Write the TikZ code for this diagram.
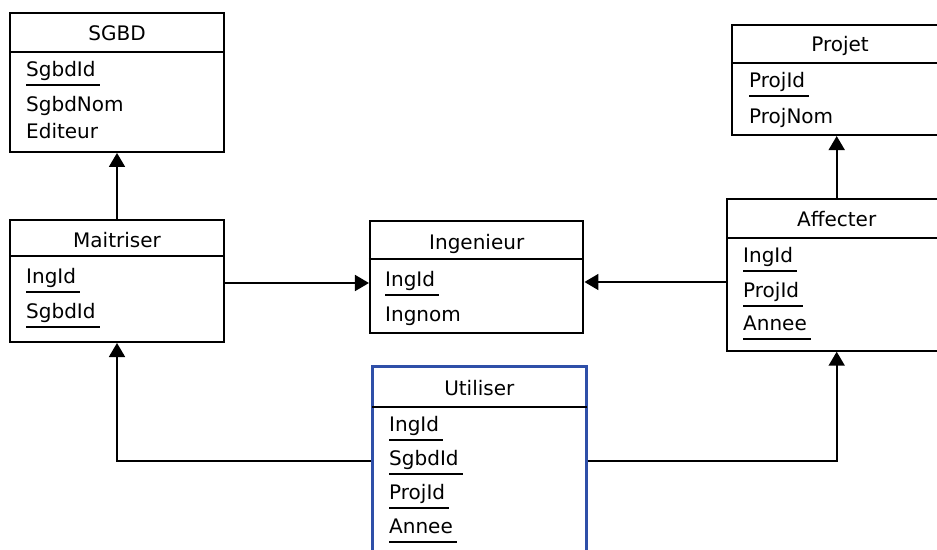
\documentclass[tikz,border=0pt]{standalone}
\usepackage{fontspec}
\setmainfont{DejaVu Sans}
\usetikzlibrary{arrows.meta,calc}
\definecolor{bleu}{RGB}{47,79,168}
\tikzset{
>={Triangle[width=16pt,length=14pt]},
tabella/.style={draw,line width=2pt,inner sep=0pt},
riga/.style={line width=2pt},
titolo/.style={anchor=base,inner sep=0pt},
attributo/.style={anchor=base west,inner xsep=2pt,inner ysep=0pt,text depth=8.5pt},
chiave/.style={attributo,append after command={([xshift=2pt]\tikzlastnode.south west) edge[line width=2pt] ([xshift=2pt]\tikzlastnode.south east)}},
freccia/.style={->,line width=1.8pt}}

\begin{document}
\begin{tikzpicture}[x=1pt,y=-1pt,font=\fontsize{20}{24}\selectfont]
\path[use as bounding box,clip] (0,0) rectangle (937,549);

% tables
\node[tabella,minimum width=214pt,minimum height=139.3pt] (sgbd) at (117,82.3) {};
\node[tabella,minimum width=214pt,minimum height=122pt] (maitriser) at (117,281) {};
\node[tabella,minimum width=213.5pt,minimum height=112.3pt] (ingenieur) at (476.7,277.2) {};
\node[tabella,draw=bleu,line width=3pt,minimum width=213.5pt,minimum height=203pt] (utiliser) at (479.3,468) {};
\node[tabella,minimum width=209.7pt,minimum height=110.3pt] (projet) at (837.2,79.9) {};
\node[tabella,minimum width=218.7pt,minimum height=151.4pt] (affecter) at (836.7,275) {};

\draw[riga] (sgbd.west |- 0,52.3) -- (sgbd.east |- 0,52.3);
\draw[riga] (maitriser.west |- 0,256) -- (maitriser.east |- 0,256);
\draw[riga] (ingenieur.west |- 0,259.3) -- (ingenieur.east |- 0,259.3);
\draw[riga] ([xshift=1pt]utiliser.west |- 0,406.7) -- ([xshift=-1pt]utiliser.east |- 0,406.7);
\draw[riga] (projet.west |- 0,63.3) -- (projet.east |- 0,63.3);
\draw[riga] (affecter.west |- 0,237.7) -- (affecter.east |- 0,237.7);

% titles
\node[titolo] (sgbdT) at (117,40.7) {SGBD};
\node[titolo] (maitriserT) at (117,247.7) {Maitriser};
\node[titolo] (ingenieurT) at (476.7,249.3) {Ingenieur};
\node[titolo] (utiliserT) at (479.3,395) {Utiliser};
\node[titolo] (projetT) at (840,51.7) {Projet};
\node[titolo] (affecterT) at (836.7,226.7) {Affecter};

% attributes
\node[chiave] (sgbd1) at (24,76.7) {SgbdId};
\node[attributo] (sgbd2) at (24,111) {SgbdNom};
\node[attributo] (sgbd3) at (24,138) {Editeur};

\node[chiave] (maitriser1) at (24,283) {IngId};
\node[chiave] (maitriser2) at (24,318) {SgbdId};

\node[chiave] (ingenieur1) at (383,286) {IngId};
\node[attributo] (ingenieur2) at (383,321.7) {Ingnom};

\node[chiave] (utiliser1) at (387,431.7) {IngId};
\node[chiave] (utiliser2) at (387,465) {SgbdId};
\node[chiave] (utiliser3) at (387,499.3) {ProjId};
\node[chiave] (utiliser4) at (387,533) {Annee};

\node[chiave] (projet1) at (747,87.3) {ProjId};
\node[attributo] (projet2) at (747,123.3) {ProjNom};

\node[chiave] (affecter1) at (741,262.3) {IngId};
\node[chiave] (affecter2) at (741,297.3) {ProjId};
\node[chiave] (affecter3) at (741,330) {Annee};

% links
\path[freccia] (maitriser) edge (sgbd);
\path[freccia] (affecter.north) edge (projet.south -| affecter.north);
\draw[freccia] (maitriser.east |- 0,283) -- (ingenieur.west |- 0,283);
\draw[freccia] (affecter.west |- 0,282) -- (ingenieur.east |- 0,282);
\draw[freccia] (utiliser.west |- 0,461) -| (maitriser.south);
\draw[freccia] (utiliser.east |- 0,461) -| (affecter.south);

\end{tikzpicture}
\end{document}
